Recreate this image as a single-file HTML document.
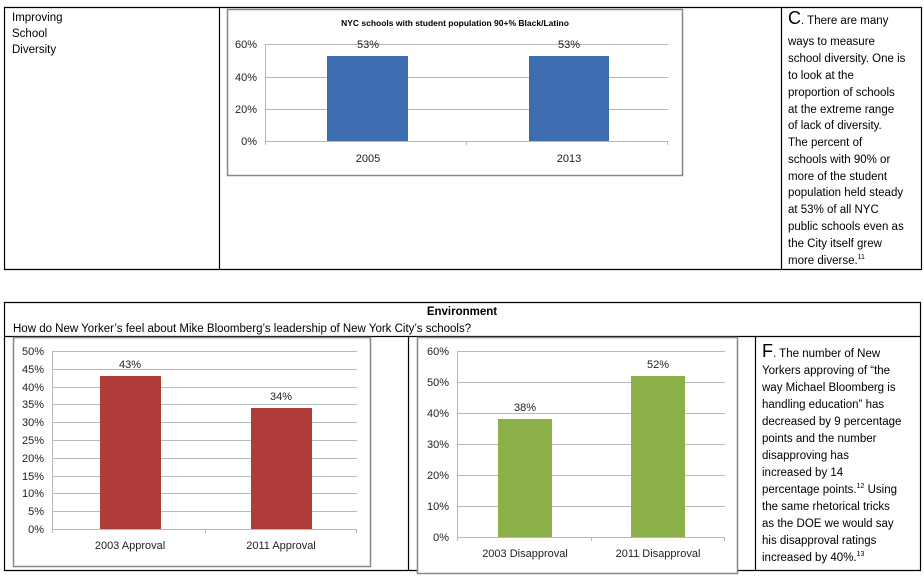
<!DOCTYPE html>
<html><head><meta charset="utf-8"><style>
html,body{margin:0;padding:0;background:#fff;}
svg{display:block;font-family:"Liberation Sans",sans-serif;}
.t{font-size:11.5px;fill:#000;}
.ax{font-size:11px;fill:#222;}
.g{stroke:#b8b8b8;stroke-width:1;}
</style></head><body>
<svg width="924" height="576" viewBox="0 0 924 576" xmlns="http://www.w3.org/2000/svg">
<g stroke="#000" stroke-width="1.2" fill="none">
<line x1="4" y1="7.5" x2="922" y2="7.5"/>
<line x1="4" y1="269.5" x2="922" y2="269.5"/>
<line x1="4.5" y1="7" x2="4.5" y2="270"/>
<line x1="219.5" y1="7" x2="219.5" y2="270"/>
<line x1="781.5" y1="7" x2="781.5" y2="270"/>
<line x1="921.5" y1="7" x2="921.5" y2="270"/>
</g>
<text class="t" x="12" y="21">Improving</text>
<text class="t" x="12" y="37">School</text>
<text class="t" x="12" y="53">Diversity</text>
<rect x="227.5" y="9.5" width="455" height="166" fill="#fff" stroke="#888" stroke-width="1.5"/>
<text x="455" y="26" text-anchor="middle" style="font-size:8.5px;font-weight:bold">NYC schools with student population 90+% Black/Latino</text>
<g class="g"><line x1="265" y1="44.5" x2="668" y2="44.5"/><line x1="265" y1="77.5" x2="668" y2="77.5"/><line x1="265" y1="109.5" x2="668" y2="109.5"/><line x1="265" y1="141.5" x2="668" y2="141.5"/>
<line x1="265.5" y1="44" x2="265.5" y2="145"/><line x1="466.5" y1="141" x2="466.5" y2="145"/><line x1="667.5" y1="141" x2="667.5" y2="145"/></g>
<g class="ax" text-anchor="end"><text x="257" y="48">60%</text><text x="257" y="81">40%</text><text x="257" y="113">20%</text><text x="257" y="145">0%</text></g>
<rect x="327" y="56" width="81" height="85" fill="#3d6db0"/>
<rect x="529" y="56" width="80" height="85" fill="#3d6db0"/>
<g class="ax" text-anchor="middle"><text x="368" y="48">53%</text><text x="569" y="48">53%</text><text x="368" y="162">2005</text><text x="569" y="162">2013</text></g>
<g class="t">
<text x="788" y="24"><tspan style="font-size:18px">C</tspan>. There are many</text>
<text x="788" y="45">ways to measure</text>
<text x="788" y="62">school diversity.  One is</text>
<text x="788" y="79">to look at the</text>
<text x="788" y="96">proportion of schools</text>
<text x="788" y="113">at the extreme range</text>
<text x="788" y="129">of lack of diversity.</text>
<text x="788" y="146">The percent of</text>
<text x="788" y="163">schools with 90% or</text>
<text x="788" y="180">more of the student</text>
<text x="788" y="196">population held steady</text>
<text x="788" y="213">at 53% of all NYC</text>
<text x="788" y="230">public schools even as</text>
<text x="788" y="247">the City itself grew</text>
<text x="788" y="264">more diverse.<tspan style="font-size:7px" dy="-5">11</tspan></text>
</g>
<g stroke="#000" stroke-width="1.2" fill="none">
<line x1="4" y1="302.5" x2="921" y2="302.5"/>
<line x1="4" y1="336.5" x2="921" y2="336.5"/>
<line x1="4" y1="570.5" x2="921" y2="570.5"/>
<line x1="4.5" y1="302" x2="4.5" y2="571"/>
<line x1="408.5" y1="336" x2="408.5" y2="571"/>
<line x1="755.5" y1="336" x2="755.5" y2="571"/>
<line x1="920.5" y1="302" x2="920.5" y2="571"/>
</g>
<text x="462" y="315" text-anchor="middle" style="font-size:11.5px;font-weight:bold">Environment</text>
<text class="t" x="13" y="332">How do New Yorker’s feel about Mike Bloomberg’s leadership of New York City’s schools?</text>
<rect x="13.5" y="337.5" width="357" height="229" fill="#fff" stroke="#888" stroke-width="1.5"/>
<g class="g">
<line x1="52" y1="351.5" x2="357" y2="351.5"/><line x1="52" y1="369.5" x2="357" y2="369.5"/><line x1="52" y1="387.5" x2="357" y2="387.5"/><line x1="52" y1="404.5" x2="357" y2="404.5"/><line x1="52" y1="422.5" x2="357" y2="422.5"/><line x1="52" y1="440.5" x2="357" y2="440.5"/><line x1="52" y1="458.5" x2="357" y2="458.5"/><line x1="52" y1="476.5" x2="357" y2="476.5"/><line x1="52" y1="493.5" x2="357" y2="493.5"/><line x1="52" y1="511.5" x2="357" y2="511.5"/><line x1="52" y1="529.5" x2="357" y2="529.5"/>
<line x1="52.5" y1="351" x2="52.5" y2="533"/><line x1="205.5" y1="529" x2="205.5" y2="533"/><line x1="356.5" y1="529" x2="356.5" y2="533"/></g>
<g class="ax" text-anchor="end"><text x="44" y="355">50%</text><text x="44" y="373">45%</text><text x="44" y="391">40%</text><text x="44" y="408">35%</text><text x="44" y="426">30%</text><text x="44" y="444">25%</text><text x="44" y="462">20%</text><text x="44" y="480">15%</text><text x="44" y="497">10%</text><text x="44" y="515">5%</text><text x="44" y="533">0%</text></g>
<rect x="100" y="376" width="61" height="153" fill="#b03c3a"/>
<rect x="251" y="408" width="61" height="121" fill="#b03c3a"/>
<g class="ax" text-anchor="middle"><text x="130" y="368">43%</text><text x="281" y="400">34%</text><text x="130" y="549">2003 Approval</text><text x="281" y="549">2011 Approval</text></g>
<rect x="417.5" y="337.5" width="320" height="236" fill="#fff" stroke="#888" stroke-width="1.5"/>
<g class="g">
<line x1="457" y1="351.5" x2="725" y2="351.5"/><line x1="457" y1="382.5" x2="725" y2="382.5"/><line x1="457" y1="413.5" x2="725" y2="413.5"/><line x1="457" y1="444.5" x2="725" y2="444.5"/><line x1="457" y1="475.5" x2="725" y2="475.5"/><line x1="457" y1="506.5" x2="725" y2="506.5"/><line x1="457" y1="537.5" x2="725" y2="537.5"/>
<line x1="457.5" y1="351" x2="457.5" y2="541"/><line x1="591.5" y1="537" x2="591.5" y2="541"/><line x1="724.5" y1="537" x2="724.5" y2="541"/></g>
<g class="ax" text-anchor="end"><text x="449" y="355">60%</text><text x="449" y="386">50%</text><text x="449" y="417">40%</text><text x="449" y="448">30%</text><text x="449" y="479">20%</text><text x="449" y="510">10%</text><text x="449" y="541">0%</text></g>
<rect x="498" y="419" width="54" height="118" fill="#8bb047"/>
<rect x="631" y="376" width="54" height="161" fill="#8bb047"/>
<g class="ax" text-anchor="middle"><text x="525" y="411">38%</text><text x="658" y="368">52%</text><text x="525" y="557">2003 Disapproval</text><text x="658" y="557">2011 Disapproval</text></g>
<g class="t">
<text x="762" y="357"><tspan style="font-size:18px">F</tspan>. The number of New</text>
<text x="762" y="374">Yorkers approving of “the</text>
<text x="762" y="391">way Michael Bloomberg is</text>
<text x="762" y="408">handling education” has</text>
<text x="762" y="425">decreased by 9 percentage</text>
<text x="762" y="442">points and the number</text>
<text x="762" y="459">disapproving has</text>
<text x="762" y="476">increased by 14</text>
<text x="762" y="493">percentage points.<tspan style="font-size:7px" dy="-5">12</tspan><tspan dy="5"> Using</tspan></text>
<text x="762" y="510">the same rhetorical tricks</text>
<text x="762" y="527">as the DOE we would say</text>
<text x="762" y="544">his disapproval ratings</text>
<text x="762" y="561">increased by 40%.<tspan style="font-size:7px" dy="-5">13</tspan></text>
</g>
</svg>
</body></html>
